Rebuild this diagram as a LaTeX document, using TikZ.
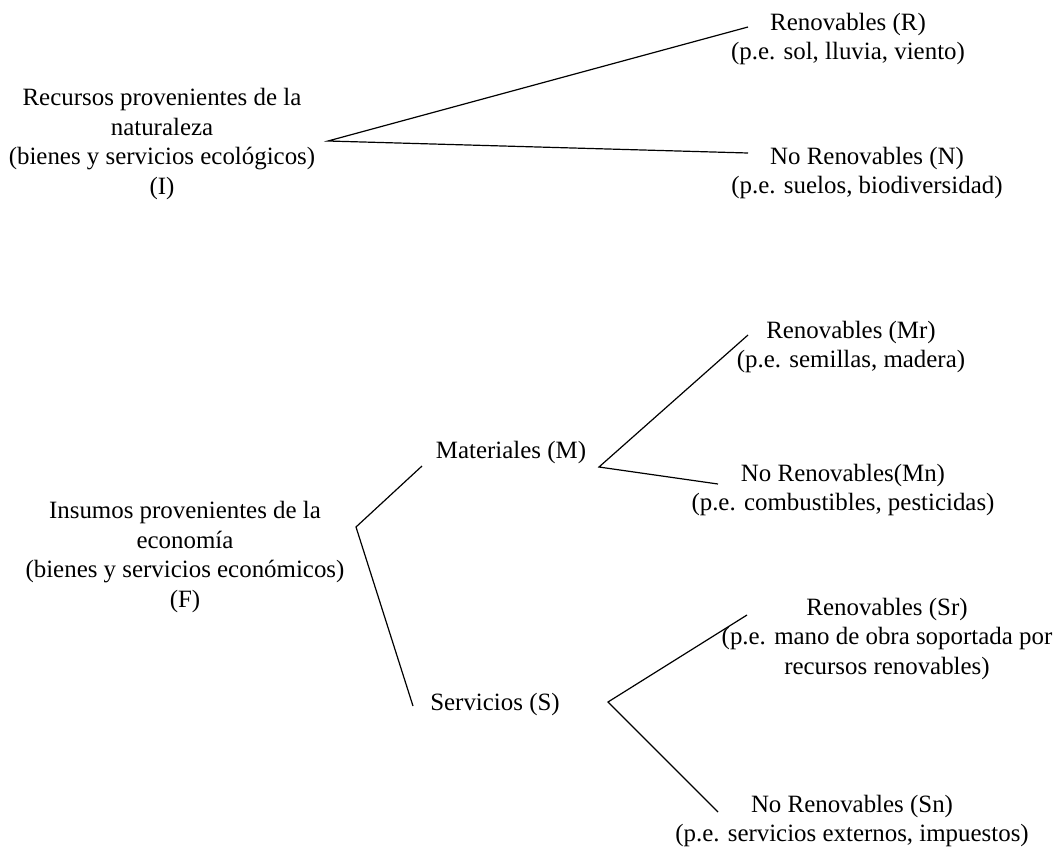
\documentclass[tikz,border=0pt]{standalone}
\usepackage{fontspec}
\setmainfont{Liberation Serif}
\begin{document}
\begin{tikzpicture}[x=1bp,y=-1bp]
\tikzset{
  lbl/.style={font=\fontsize{25}{30}\selectfont, align=center, inner sep=0pt},
  conn/.style={line width=1.2bp, black}
}
\useasboundingbox (0,0) rectangle (1059,852);
% text blocks
\node[lbl] (I) at (162,144) {Recursos provenientes de la\\naturaleza\\(bienes y servicios ecológicos)\\(I)};
\node[lbl] (R) at (848,39) {Renovables (R)\\(p.e. sol, lluvia, viento)};
\node[lbl] (N) at (867,173) {No Renovables (N)\\(p.e. suelos, biodiversidad)};
\node[lbl] (F) at (185,557) {Insumos provenientes de la\\economía\\(bienes y servicios económicos)\\(F)};
\node[lbl] (M) at (511,453) {Materiales (M)};
\node[lbl] (S) at (495,705) {Servicios (S)};
\node[lbl] (Mr) at (851,347) {Renovables (Mr)\\(p.e. semillas, madera)};
\node[lbl] (Mn) at (843,490) {No Renovables(Mn)\\(p.e. combustibles, pesticidas)};
\node[lbl] (Sr) at (887,639) {Renovables (Sr)\\(p.e. mano de obra soportada por\\recursos renovables)};
\node[lbl] (Sn) at (852,821) {No Renovables (Sn)\\(p.e. servicios externos, impuestos)};
% connector points
\coordinate (aI) at (328,141);
\coordinate (eR) at (748,27);
\coordinate (eN) at (748,153);
\coordinate (aF) at (356,527);
\coordinate (eM) at (422,466);
\coordinate (eS) at (413,706);
\coordinate (aM) at (599,467);
\coordinate (eMr) at (748,335);
\coordinate (eMn) at (718,484);
\coordinate (aS) at (608,702);
\coordinate (eSr) at (747,615);
\coordinate (eSn) at (718,812);
% connectors
\draw[conn] (eR) -- (aI) -- (eN);
\draw[conn] (eM) -- (aF) -- (eS);
\draw[conn] (eMr) -- (aM) -- (eMn);
\draw[conn] (eSr) -- (aS) -- (eSn);
\end{tikzpicture}
\end{document}
